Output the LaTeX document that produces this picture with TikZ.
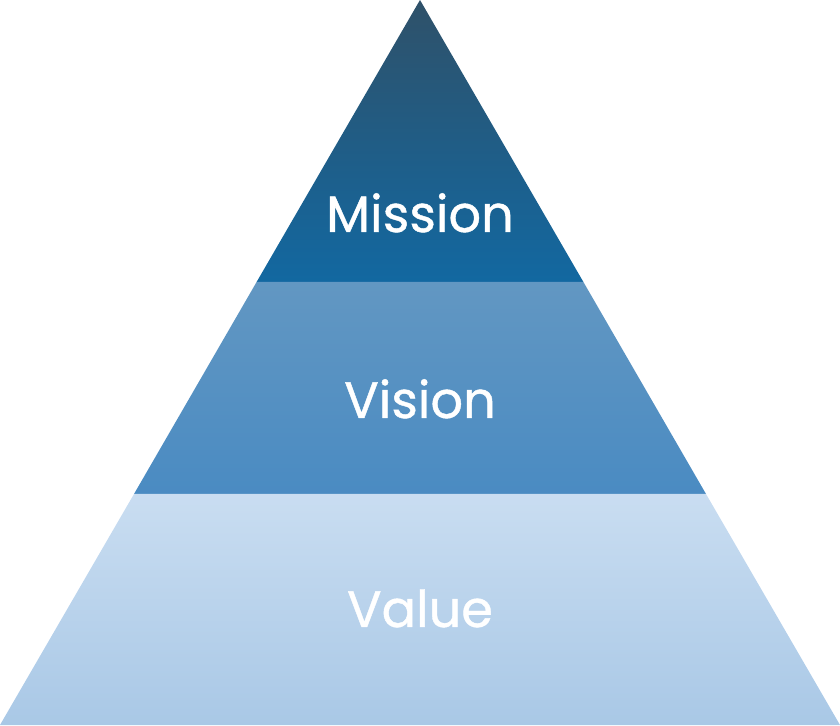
\documentclass[tikz,border=0pt]{standalone}
\usepackage{fontspec}
\setmainfont{Poppins}
\newfontfamily\lblfont{Poppins}[FakeBold=0.8]
\definecolor{topA}{HTML}{2F5169}
\definecolor{topB}{HTML}{1268A1}
\definecolor{midA}{HTML}{6297C2}
\definecolor{midB}{HTML}{4A8BC2}
\definecolor{botA}{HTML}{C9DDF1}
\definecolor{botB}{HTML}{A9C8E6}
\tikzset{
  lbl/.style={text=white, font=\lblfont\fontsize{51}{60}\selectfont, inner sep=0pt, anchor=base}
}
\begin{document}
\begin{tikzpicture}[x=1pt,y=1pt]
\useasboundingbox (0,0) rectangle (840,725);
\shade[top color=topA, bottom color=topB] (420,725) -- (583.4,443) -- (256.6,443) -- cycle;
\shade[top color=midA, bottom color=midB] (256.6,443) -- (583.4,443) -- (706,231) -- (134,231) -- cycle;
\shade[top color=botA, bottom color=botB] (134,231) -- (706,231) -- (840,0) -- (0,0) -- cycle;
\node[lbl] (mission) at (420,493) {Mission};
\node[lbl] (vision) at (420,307) {Vision};
\node[lbl] (value) at (420,98) {Value};
\end{tikzpicture}
\end{document}
